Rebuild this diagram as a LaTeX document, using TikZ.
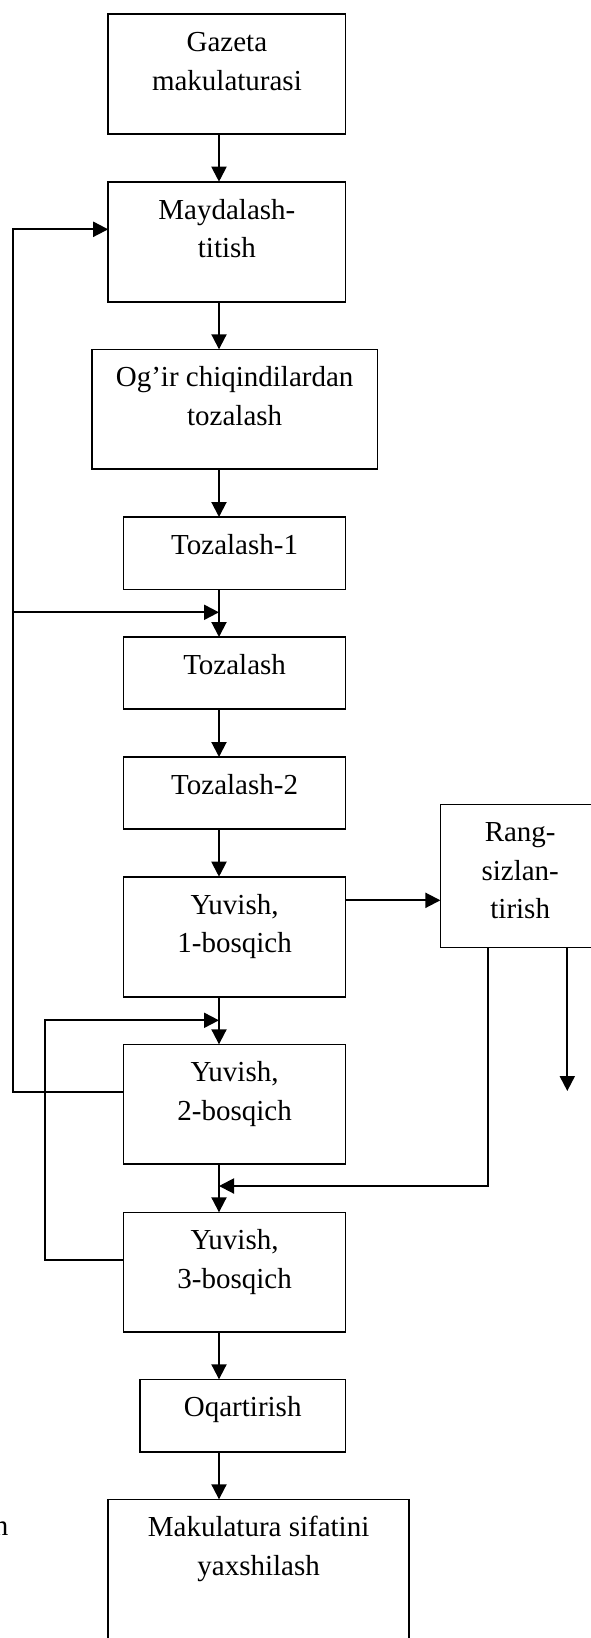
\documentclass[tikz,border=0pt]{standalone}
\usepackage{fontspec}
\setmainfont{Liberation Serif}
\usetikzlibrary{arrows.meta}
\tikzset{
  procbox/.style={draw, line width=1.6pt, rectangle, inner sep=0pt, outer sep=0pt},
  txt/.style={font=\fontsize{29}{38.5}\selectfont, align=center, inner sep=0pt},
  conn/.style={line width=2pt, -{Triangle[length=15pt,width=15pt]}},
}
\newcommand\mkbox[6]{%
  \node[procbox, minimum width={#4-#2}, minimum height={#5-#3}] (#1) at ({(#2+#4)/2},{(#3+#5)/2}) {};
  \node[txt, anchor=north] (#1t) at ([yshift=-10.35pt]#1.north) {\strut#6};}
\begin{document}
\begin{tikzpicture}[x=1pt,y=-1pt]
\useasboundingbox (0,0) rectangle (591,1638);
\mkbox{b1}{108.2}{14}{345.6}{133.7}{Gazeta\\makulaturasi}
\mkbox{b2}{108.2}{181.7}{345.6}{301.7}{Maydalash-\\titish}
\mkbox{b3}{92}{349.3}{377.3}{469}{Og’ir chiqindilardan\\tozalash}
\mkbox{b4}{123.6}{517}{345.6}{589.3}{Tozalash-1}
\mkbox{b5}{123.6}{637}{345.6}{709}{Tozalash}
\mkbox{b6}{123.6}{757}{345.6}{829}{Tozalash-2}
\mkbox{b7}{123.6}{876.7}{345.6}{996.7}{Yuvish,\\1-bosqich}
\mkbox{b8}{123.6}{1044.3}{345.6}{1164}{Yuvish,\\2-bosqich}
\mkbox{b9}{123.6}{1212.3}{345.6}{1331.7}{Yuvish,\\3-bosqich}
\mkbox{b10}{139.8}{1379.3}{345.6}{1451.7}{Oqartirish}
\mkbox{b11}{108.2}{1499.3}{409}{1660}{Makulatura sifatini\\yaxshilash}
\mkbox{R}{440.4}{804.3}{600}{947.3}{Rang-\\sizlan-\\tirish}
\node[txt, anchor=base east] (frag) at (8.5,1535) {n};
\coordinate (ax) at (219,0);
\coordinate (c1) at (13.2,229.3);
\coordinate (c2) at (13.2,612.3);
\coordinate (c3) at (45.2,1020.3);
\coordinate (c4) at (488.3,1186);
\coordinate (c5) at (567.3,1091);
\foreach \a/\b in {b1/b2,b2/b3,b3/b4,b4/b5,b5/b6,b6/b7,b7/b8,b8/b9,b9/b10,b10/b11}
  \draw[conn] (\a.south -| ax) -- (\b.north -| ax);
\draw[conn] ([yshift=12pt]b8.west) -| (c1) -- ([yshift=12.4pt]b2.west);
\draw[conn] (c2) -- (c2 -| ax);
\draw[conn] ([yshift=12.3pt]b9.west) -| (c3) -- (c3 -| ax);
\draw[conn] ([yshift=36.4pt]b7.east) -- ([yshift=36.4pt]b7.east -| R.west);
\draw[conn] (R.south -| c4) -- (c4) -- (c4 -| ax);
\draw[conn] (R.south -| c5) -- (c5);
\end{tikzpicture}
\end{document}
